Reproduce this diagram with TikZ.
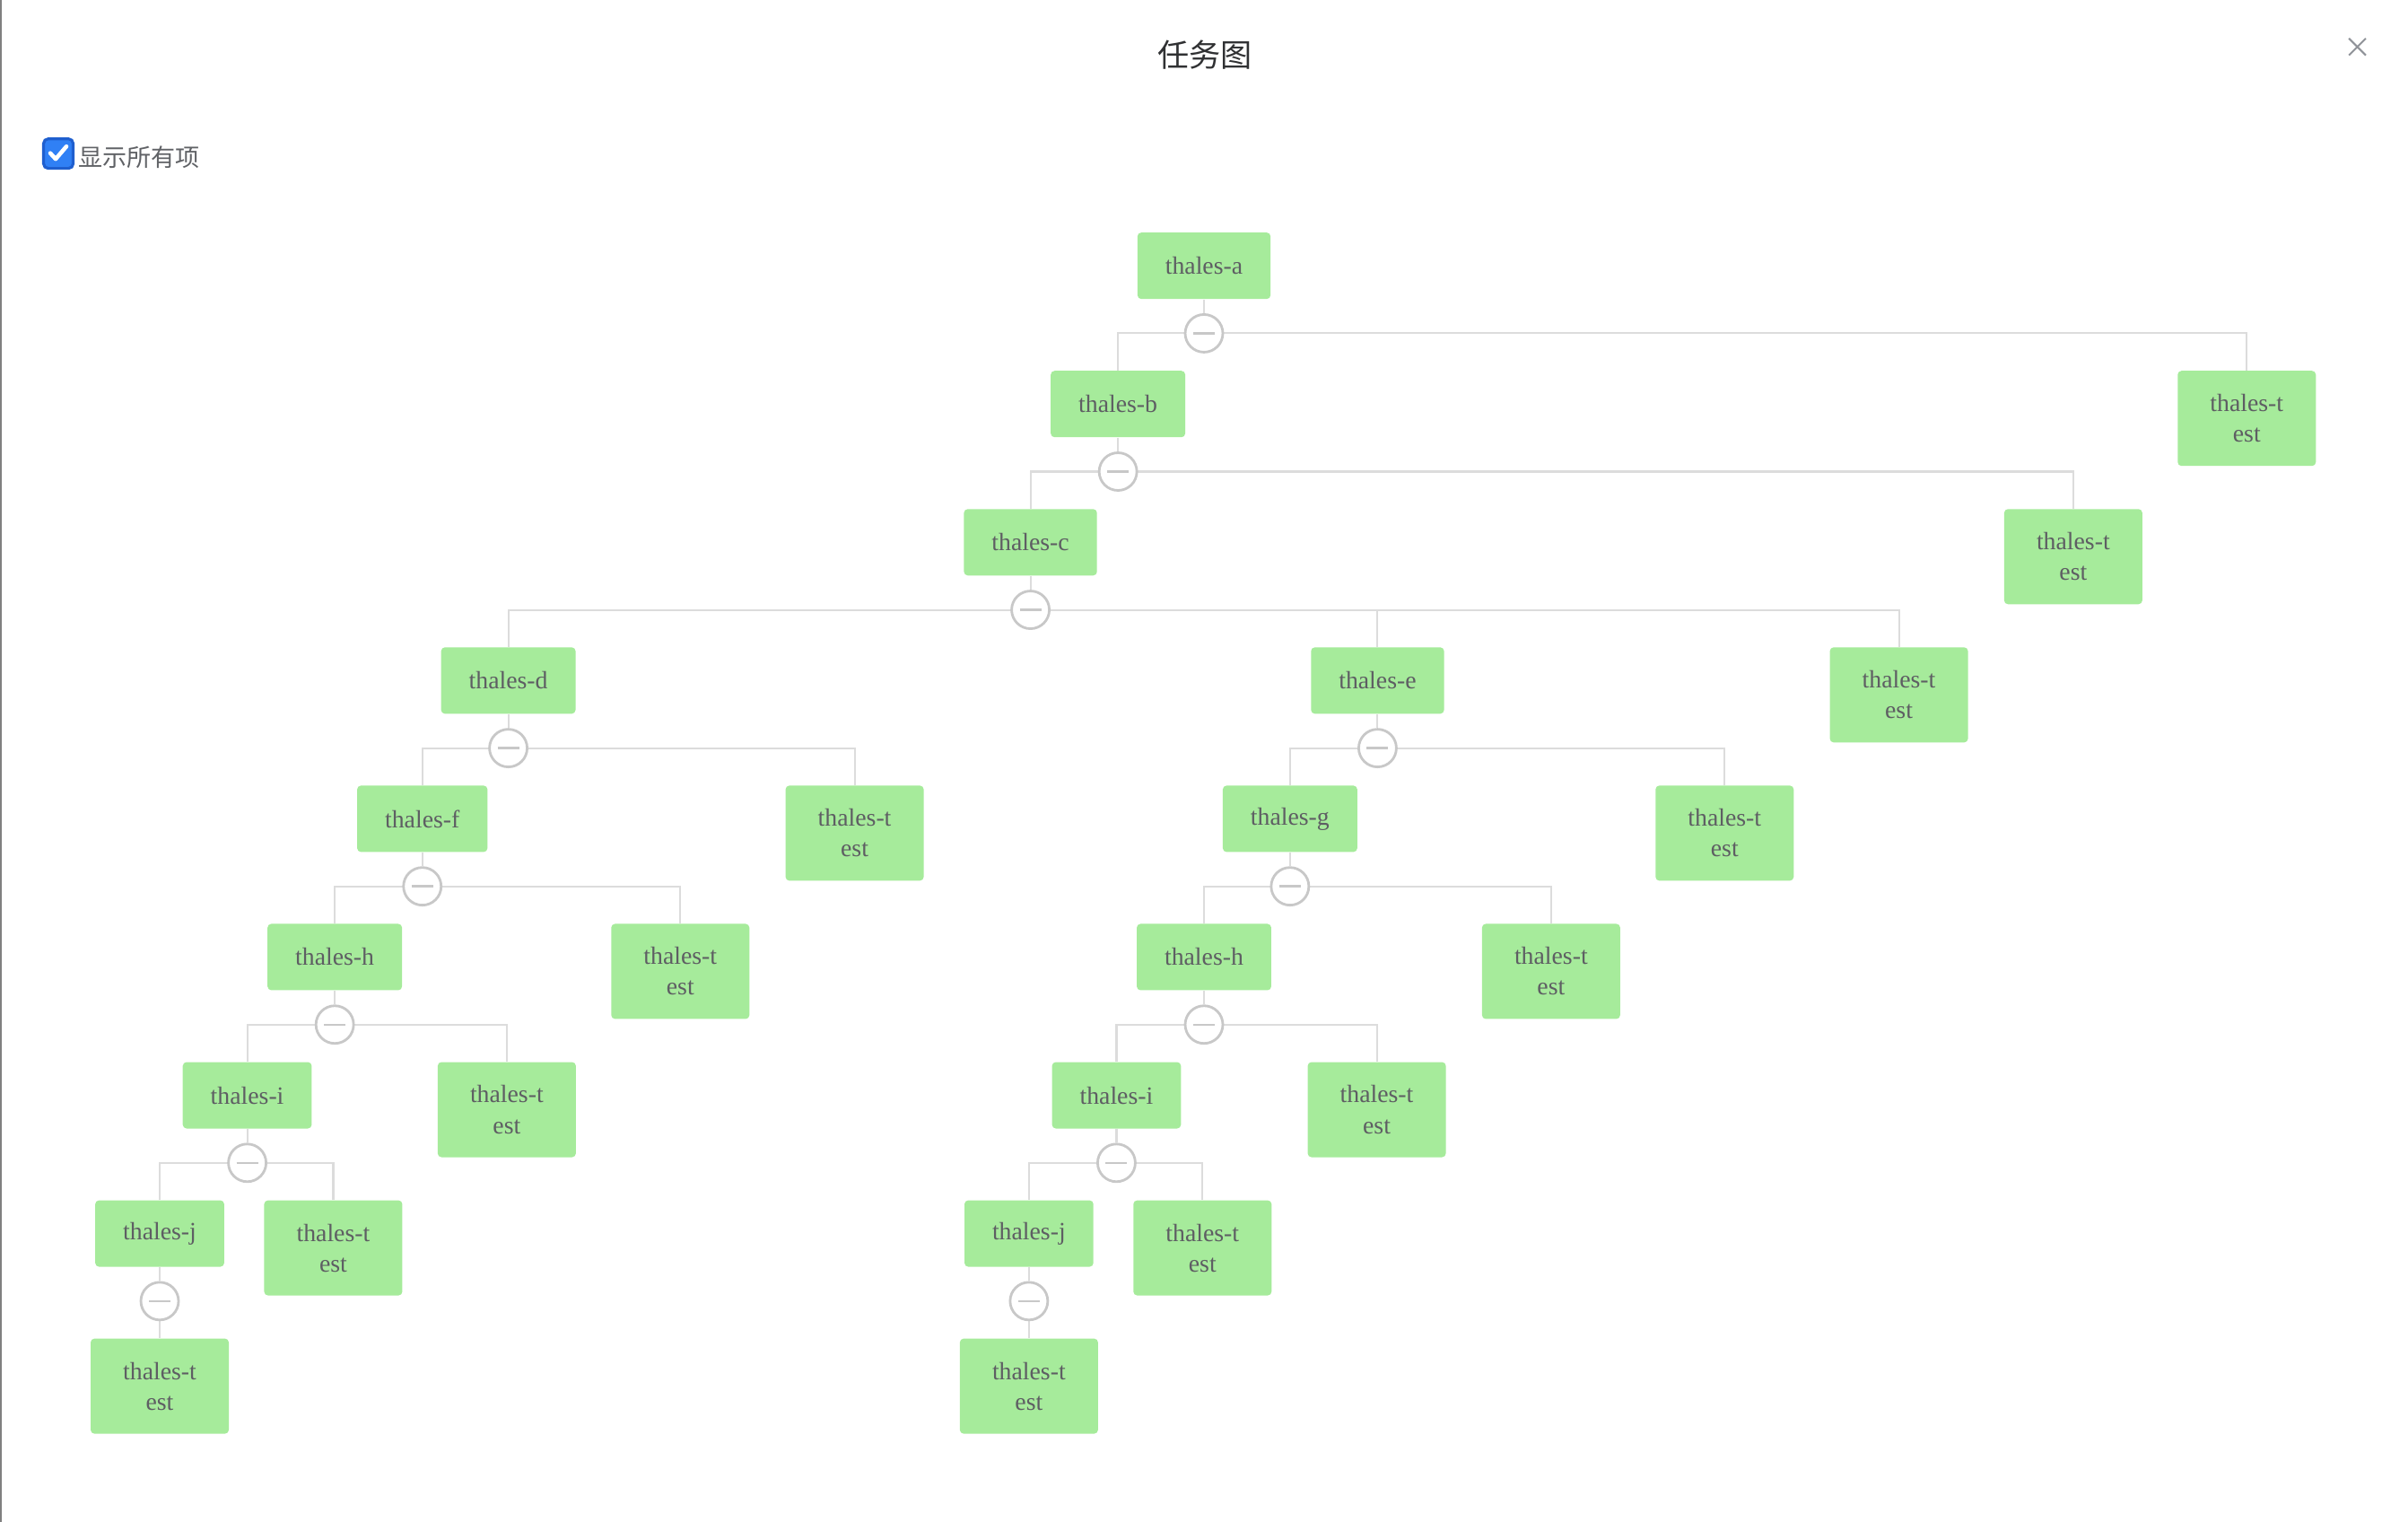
\documentclass[tikz,border=0pt]{standalone}
\usepackage{fontspec}
\setmainfont{Liberation Serif}
\newfontfamily\cjk{Noto Sans CJK SC}
\usepackage{tikz}
\usetikzlibrary{backgrounds}
\definecolor{taskgreen}{HTML}{A6EB9B}
\definecolor{tasktext}{HTML}{5E5E63}
\definecolor{linkgray}{HTML}{DCDCDC}
\definecolor{ringgray}{HTML}{C8C8C8}
\definecolor{titlegray}{HTML}{303133}
\definecolor{labelgray}{HTML}{606266}
\definecolor{closegray}{HTML}{909399}
\definecolor{checkblue}{HTML}{3080F5}
\definecolor{checkedge}{HTML}{1F5FCF}
\begin{document}
\begin{tikzpicture}[x=0.0171173cm,y=-0.0171173cm,
    task/.style={fill=taskgreen,text=tasktext,rounded corners=1.2pt,anchor=north,inner xsep=0.31cm,minimum height=0.74cm,font=\fontsize{7.9pt}{9.7pt}\selectfont},
    testtask/.style={task,align=center,minimum width=1.54cm,minimum height=1.06cm},
    toggle/.style={circle,draw=ringgray,line width=0.8pt,fill=white,minimum size=0.42cm,inner sep=0pt,
        path picture={\draw[ringgray,line width=0.7pt] ([xshift=-0.12cm]path picture bounding box.center)--([xshift=0.12cm]path picture bounding box.center);}},
    link/.style={draw=linkgray,line width=0.6pt}]
        \useasboundingbox (0,0) rectangle (1568,990.8);
        \draw[gray,line width=1pt] (0.4,0)--(0.4,990.8);
        \node[text=titlegray,font=\cjk\fontsize{10pt}{12pt}\selectfont] (title) at (784.6,36){任务图};
        \draw[closegray,line width=0.6pt] (1529.5,25)--(1540.5,36) (1540.5,25)--(1529.5,36);
        \node[draw=checkedge,fill=checkblue,line width=0.9pt,rounded corners=1.5pt,minimum size=0.33cm,inner sep=0pt] (check) at (38,100){};
        \draw[white,line width=1.3pt,line cap=round,line join=round] ([xshift=-0.09cm,yshift=0.005cm]check.center)--([xshift=-0.03cm,yshift=-0.06cm]check.center)--([xshift=0.09cm,yshift=0.08cm]check.center);
        \node[anchor=west,inner xsep=1pt,yshift=-0.04cm,text=labelgray,font=\cjk\fontsize{7.7pt}{9pt}\selectfont] (showall) at (check.east){显示所有项};
        \node[task] (a) at (784,151){thales-a};
        \node[task] (b) at (728,241){thales-b};
        \node[testtask] (t1) at (1463,241){thales-t\\est};
        \node[task] (c) at (671,331){thales-c};
        \node[testtask] (t2) at (1350,331){thales-t\\est};
        \node[task] (d) at (331,421){thales-d};
        \node[task] (e) at (897,421){thales-e};
        \node[testtask] (t3) at (1236.5,421){thales-t\\est};
        \node[task] (f) at (275,511){thales-f};
        \node[testtask] (t4) at (556.5,511){thales-t\\est};
        \node[task] (g) at (840,511){thales-g};
        \node[testtask] (t5) at (1123,511){thales-t\\est};
        \node[task] (h1) at (218,601){thales-h};
        \node[testtask] (t6) at (443,601){thales-t\\est};
        \node[task] (h2) at (784,601){thales-h};
        \node[testtask] (t7) at (1010,601){thales-t\\est};
        \node[task] (i1) at (161,691){thales-i};
        \node[testtask] (t8) at (330,691){thales-t\\est};
        \node[task] (i2) at (727,691){thales-i};
        \node[testtask] (t9) at (896.5,691){thales-t\\est};
        \node[task] (j1) at (104,781){thales-j};
        \node[testtask] (t10) at (217,781){thales-t\\est};
        \node[task] (j2) at (670,781){thales-j};
        \node[testtask] (t11) at (783,781){thales-t\\est};
        \node[testtask] (t12) at (104,871){thales-t\\est};
        \node[testtask] (t13) at (670,871){thales-t\\est};
        \node[toggle] (ca) at (784,217){};
        \node[toggle] (cb) at (728,307){};
        \node[toggle] (cc) at (671,397){};
        \node[toggle] (cd) at (331,487){};
        \node[toggle] (ce) at (897,487){};
        \node[toggle] (cf) at (275,577){};
        \node[toggle] (cg) at (840,577){};
        \node[toggle] (ch1) at (218,667){};
        \node[toggle] (ch2) at (784,667){};
        \node[toggle] (ci1) at (161,757){};
        \node[toggle] (ci2) at (727,757){};
        \node[toggle] (cj1) at (104,847){};
        \node[toggle] (cj2) at (670,847){};
        \begin{scope}[on background layer]
        \draw[link] (a)--(ca) (b.north) |- (ca.center) -| (t1.north);
        \draw[link] (b)--(cb) (c.north) |- (cb.center) -| (t2.north);
        \draw[link] (c)--(cc) (d.north) |- (cc.center) -| (t3.north) (e.north)--(e.north |- cc.center);
        \draw[link] (d)--(cd) (f.north) |- (cd.center) -| (t4.north);
        \draw[link] (e)--(ce) (g.north) |- (ce.center) -| (t5.north);
        \draw[link] (f)--(cf) (h1.north) |- (cf.center) -| (t6.north);
        \draw[link] (g)--(cg) (h2.north) |- (cg.center) -| (t7.north);
        \draw[link] (h1)--(ch1) (i1.north) |- (ch1.center) -| (t8.north);
        \draw[link] (h2)--(ch2) (i2.north) |- (ch2.center) -| (t9.north);
        \draw[link] (i1)--(ci1) (j1.north) |- (ci1.center) -| (t10.north);
        \draw[link] (i2)--(ci2) (j2.north) |- (ci2.center) -| (t11.north);
        \draw[link] (j1)--(cj1)--(t12);
        \draw[link] (j2)--(cj2)--(t13);
        \end{scope}
    \end{tikzpicture}
\end{document}
